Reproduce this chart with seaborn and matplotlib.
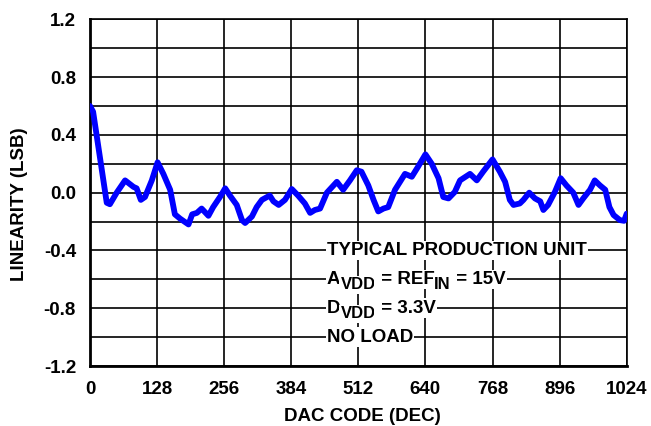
import numpy as np
import pandas as pd
import matplotlib
matplotlib.use("Agg")
import matplotlib.pyplot as plt
import matplotlib.transforms as mtransforms
import seaborn as sns

# DAC code vs integral linearity (LSB)
dac_code = [0, 6, 32, 38, 51, 67, 83, 89, 97, 105, 118, 129, 140, 153, 162,
            172, 180, 188, 195, 204, 213, 226, 235, 248, 258, 267, 280, 290,
            296, 309, 318, 328, 343, 350, 360, 372, 385, 397, 410, 420, 429,
            439, 452, 471, 483, 496, 509, 518, 531, 541, 550, 560, 569, 582,
            601, 614, 626, 640, 652, 665, 674, 684, 696, 706, 725, 738, 750,
            768, 782, 792, 801, 808, 820, 827, 838, 849, 859, 865, 874, 887,
            898, 909, 922, 932, 941, 954, 963, 973, 983, 991, 999, 1011, 1019,
            1024]
linearity = [0.60, 0.56, -0.07, -0.08, 0.00, 0.085, 0.04, 0.03, -0.05, -0.03,
             0.085, 0.21, 0.13, 0.02, -0.15, -0.18, -0.20, -0.22, -0.15,
             -0.14, -0.11, -0.16, -0.10, -0.03, 0.03, -0.02, -0.085, -0.19,
             -0.21, -0.165, -0.10, -0.05, -0.02, -0.06, -0.085, -0.05, 0.025,
             -0.02, -0.075, -0.14, -0.12, -0.11, 0.00, 0.075, 0.02, 0.085,
             0.155, 0.145, 0.05, -0.05, -0.13, -0.11, -0.10, 0.02, 0.13, 0.11,
             0.18, 0.265, 0.20, 0.10, -0.03, -0.04, 0.005, 0.085, 0.13, 0.085,
             0.145, 0.23, 0.145, 0.075, -0.05, -0.085, -0.075, -0.05, 0.00,
             -0.04, -0.06, -0.12, -0.085, 0.005, 0.10, 0.05, 0.00, -0.085,
             -0.04, 0.02, 0.085, 0.05, 0.02, -0.10, -0.155, -0.19, -0.195,
             -0.145]

x_ticks = [0, 128, 256, 384, 512, 640, 768, 896, 1024]
y_ticks = [-1.2, -0.8, -0.4, 0.0, 0.4, 0.8, 1.2]
y_grid = [-1.2, -1.0, -0.8, -0.6, -0.4, -0.2, 0.0, 0.2, 0.4, 0.6, 0.8, 1.0, 1.2]

# conditions box: each line is a list of (text, is_subscript)
notes = [
    [("TYPICAL PRODUCTION UNIT", False)],
    [("A", False), ("VDD", True), (" = REF", False), ("IN", True), (" = 15V", False)],
    [("D", False), ("VDD", True), (" = 3.3V", False)],
    [("NO LOAD", False)],
]
note_y = [-0.4, -0.6, -0.8, -1.0]
note_x = 452

FS = 13.5
SUB_FS = 12

sns.set_style("white")
plt.rcParams["font.family"] = ["Liberation Sans", "DejaVu Sans"]
plt.rcParams["font.weight"] = "bold"
plt.rcParams["axes.unicode_minus"] = False
for key in ["text.color", "axes.labelcolor", "xtick.color", "ytick.color"]:
    plt.rcParams[key] = "black"

df = pd.DataFrame({"code": dac_code, "lin": linearity})

fig = plt.figure(figsize=(6.51, 4.26), dpi=100)
ax = fig.add_axes([0.1382, 0.1408, 0.8245, 0.8139])

sns.lineplot(data=df, x="code", y="lin", ax=ax, color="#0000FF",
             linewidth=4.2, solid_capstyle="round", solid_joinstyle="round",
             zorder=3)

ax.set_xlim(0, 1024)
ax.set_ylim(-1.2, 1.2)
ax.set_xticks(x_ticks)
ax.set_xticklabels([str(v) for v in x_ticks])
ax.set_yticks(y_ticks)
ax.set_yticklabels([f"{v:.1f}" for v in y_ticks])
ax.tick_params(axis="both", which="both", length=0, labelsize=FS)
ax.tick_params(axis="y", pad=10)
ax.tick_params(axis="x", pad=11)
for lab in ax.get_xticklabels() + ax.get_yticklabels():
    lab.set_fontweight("bold")

for gx in x_ticks:
    ax.axvline(gx, color="black", linewidth=1.2, zorder=1)
for gy in y_grid:
    ax.axhline(gy, color="black", linewidth=1.2, zorder=1)

for side in ["left", "bottom"]:
    ax.spines[side].set_linewidth(2.0)
for side in ["top", "right"]:
    ax.spines[side].set_linewidth(1.2)
for sp in ax.spines.values():
    sp.set_color("black")
    sp.set_visible(True)

# draw the note lines piece by piece so subscripts stay large
renderer = fig.canvas.get_renderer()
for parts, ty in zip(notes, note_y):
    dx = 0.0
    for txt, is_sub in parts:
        size = SUB_FS if is_sub else FS
        dy = -4.0 if is_sub else 0.0
        tr = mtransforms.offset_copy(ax.transData, fig=fig, x=dx, y=dy,
                                     units="points")
        t = ax.text(note_x, ty, txt, fontsize=size, fontweight="bold",
                    va="center", ha="left", zorder=4, transform=tr,
                    bbox=dict(facecolor="white", edgecolor="none", pad=1.0))
        w = t.get_window_extent(renderer=renderer).width
        dx += w * 72.0 / fig.dpi

ax.set_xlabel("")
ax.set_ylabel("")
fig.text(0.030, 0.521, "LINEARITY (LSB)", rotation=90, fontsize=FS,
         fontweight="bold", ha="center", va="center")
fig.text(0.557, 0.002, "DAC CODE (DEC)", fontsize=FS, fontweight="bold",
         ha="center", va="bottom")

fig.savefig("out.png", dpi=100)
